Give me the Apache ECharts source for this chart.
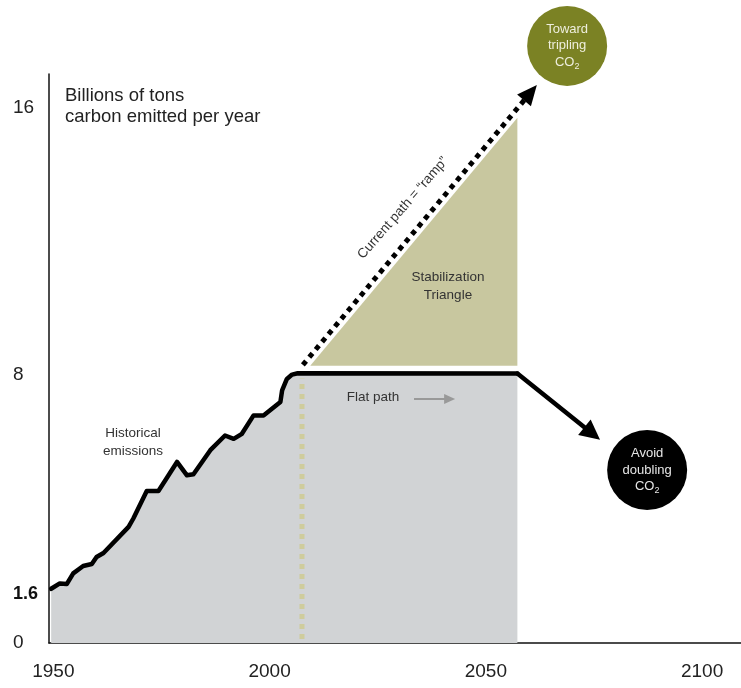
<!DOCTYPE html>
<html>
<head>
<meta charset="utf-8">
<script src="https://cdn.jsdelivr.net/npm/echarts@6/dist/echarts.min.js"></script>
<style>
  html, body { margin: 0; padding: 0; background: #fff; }
  #chart { width: 741px; height: 688px; }
</style>
</head>
<body>
<div id="chart"></div>
<script>
// Historical emissions, billions of tons of carbon per year
const histYears  = [1949.5, 1951.5, 1953.1, 1954.6, 1956.9, 1958.9, 1960.0, 1961.6, 1967.4, 1968.5, 1971.6, 1974.3, 1975.9, 1978.6, 1980.9, 1982.4, 1986.3, 1989.7, 1991.7, 1993.6, 1996.3, 1998.6, 2002.5, 2002.9, 2004.0, 2005.2, 2006.5];
const histValues = [1.62, 1.78, 1.76, 2.08, 2.30, 2.36, 2.57, 2.69, 3.47, 3.72, 4.54, 4.54, 4.86, 5.41, 5.01, 5.04, 5.76, 6.20, 6.10, 6.25, 6.80, 6.80, 7.20, 7.55, 7.89, 8.02, 8.06];

// Flat path: emissions held constant for fifty years
const flatYears  = [2057.3];
const flatValues = [8.05];

// Decline after the flat path
const declineYears  = [2057.3, 2076.4];
const declineValues = [8.05, 6.07];

// Current path ("ramp")
const rampYears  = [2007.7, 2061.8];
const rampValues = [8.31, 16.67];

// Stabilization triangle
const triYears  = [2009.4, 2057.3, 2057.3];
const triValues = [8.28, 8.28, 15.69];

// Start of the projection
const guideYear = 2007.5;
const guideValues = [0, 7.9];

// Axis tick labels
const xTicks = [1950, 2000, 2050, 2100];
const yTicks = [0, 1.6, 8, 16];

// Outcome bubbles
const tripleAt = [2068.8, 17.84];
const doubleAt = [2087.3, 5.17];

// Small "flat path" pointer
const pointerYears = [2033.4, 2042.9];
const pointerValues = [7.29, 7.29];

const FONT = '"Liberation Sans", Arial, sans-serif';
const TEXT = '#333';

const histData = histYears.map((y, i) => [y, histValues[i]])
  .concat(flatYears.map((y, i) => [y, flatValues[i]]));

function arrow(api, xs, ys, o) {
  const p0 = api.coord([xs[0], ys[0]]);
  const p1 = api.coord([xs[1], ys[1]]);
  const dx = p1[0] - p0[0], dy = p1[1] - p0[1];
  const len = Math.hypot(dx, dy);
  const ux = dx / len, uy = dy / len, nx = -uy, ny = ux;
  const L = o.headLen, W = o.headWidth / 2;
  const bx = p1[0] - ux * L, by = p1[1] - uy * L;
  return {
    type: 'group',
    children: [
      {
        type: 'line',
        shape: { x1: p0[0], y1: p0[1], x2: p1[0] - ux * L * 0.6, y2: p1[1] - uy * L * 0.6 },
        style: { stroke: o.color, lineWidth: o.width, lineDash: o.dash || null, lineCap: o.cap || 'butt', fill: null }
      },
      {
        type: 'polygon',
        shape: { points: [[p1[0], p1[1]], [bx + nx * W, by + ny * W], [bx - nx * W, by - ny * W]] },
        style: { fill: o.color }
      }
    ]
  };
}

const chart = echarts.init(document.getElementById('chart'), null, { renderer: 'canvas' });

const bubbleLabel = (lines, color) => ({
  show: true,
  position: 'inside',
  formatter: lines,
  rich: {
    t: { fontSize: 13, lineHeight: 16.5, color: color, fontFamily: FONT },
    s: { fontSize: 9, lineHeight: 10, color: color, fontFamily: FONT, verticalAlign: 'bottom' }
  }
});

const note = (x, y, text, extra) => Object.assign({
  type: 'text', silent: true, z: 20,
  style: { x: x, y: y, text: text, font: '13.5px ' + FONT, fill: TEXT, align: 'center', verticalAlign: 'middle' }
}, extra || {});

chart.setOption({
  animation: false,
  backgroundColor: '#fff',
  grid: { left: 49, right: 0, top: 74, bottom: 45 },
  xAxis: {
    type: 'value', min: 1949, max: 2109,
    axisLine: { show: true, onZero: false, lineStyle: { color: '#111', width: 1.5 } },
    axisTick: { show: false },
    splitLine: { show: false },
    axisLabel: { customValues: xTicks, margin: 19, fontSize: 19, color: '#222', fontFamily: FONT,
      formatter: v => String(v) }
  },
  yAxis: {
    type: 'value', min: 0, max: 17,
    axisLine: { show: true, lineStyle: { color: '#111', width: 1.5 } },
    axisTick: { show: false },
    splitLine: { show: false },
    axisLabel: {
      customValues: yTicks, align: 'left', margin: 36, fontSize: 19, color: '#222', fontFamily: FONT,
      formatter: v => (v === 1.6 ? '{b|1.6}' : String(v)),
      rich: { b: { fontWeight: 'bold', fontSize: 18, color: '#111', fontFamily: FONT, padding: [9, 0, 0, 0] } }
    }
  },
  series: [
    {
      name: 'area', type: 'line', data: histData, symbol: 'none', silent: true, z: 1,
      lineStyle: { width: 0 }, areaStyle: { color: '#d1d3d5', opacity: 1 }
    },
    {
      name: 'triangle', type: 'custom', silent: true, z: 1,
      data: [[triYears[0], triValues[0]]],
      renderItem: (params, api) => ({
        type: 'polygon',
        shape: { points: triYears.map((y, i) => api.coord([y, triValues[i]])) },
        style: { fill: '#c8c79f' }
      })
    },
    {
      name: 'guide', type: 'custom', silent: true, z: 2,
      data: [[guideYear, guideValues[0]]],
      renderItem: (params, api) => {
        const a = api.coord([guideYear, guideValues[0]]);
        const b = api.coord([guideYear, guideValues[1]]);
        return { type: 'line', shape: { x1: a[0], y1: a[1] - 4, x2: b[0], y2: b[1] },
          style: { stroke: '#cfcc9c', lineWidth: 5, lineDash: [5, 5], fill: null } };
      }
    },
    {
      name: 'emissions', type: 'line', data: histData, symbol: 'none', silent: true, z: 3,
      lineStyle: { color: '#000', width: 4.5, join: 'round', cap: 'round' }
    },
    {
      name: 'decline', type: 'custom', silent: true, z: 3,
      data: [[declineYears[0], declineValues[0]]],
      renderItem: (params, api) => arrow(api, declineYears, declineValues,
        { color: '#000', width: 4.5, headLen: 20, headWidth: 20, cap: 'round' })
    },
    {
      name: 'ramp', type: 'custom', silent: true, z: 3,
      data: [[rampYears[0], rampValues[0]]],
      renderItem: (params, api) => arrow(api, rampYears, rampValues,
        { color: '#000', width: 5, dash: [5, 5], headLen: 20, headWidth: 18 })
    },
    {
      name: 'pointer', type: 'custom', silent: true, z: 3,
      data: [[pointerYears[0], pointerValues[0]]],
      renderItem: (params, api) => arrow(api, pointerYears, pointerValues,
        { color: '#999', width: 2, headLen: 11, headWidth: 10 })
    },
    {
      name: 'bubbles', type: 'scatter', silent: true, clip: false, z: 4,
      symbol: 'circle', symbolSize: 80,
      itemStyle: { opacity: 1 },
      data: [
        { value: tripleAt, itemStyle: { color: '#7b8224', opacity: 1 },
          label: bubbleLabel('{t|Toward}\n{t|tripling}\n{t|CO}{s|2}', '#eeeedd') },
        { value: doubleAt, itemStyle: { color: '#000', opacity: 1 },
          label: bubbleLabel('{t|Avoid}\n{t|doubling}\n{t|CO}{s|2}', '#e6e6e6') }
      ]
    }
  ],
  graphic: [
    { type: 'text', silent: true, z: 20, style: { x: 65, y: 96, text: 'Billions of tons', font: '18.5px ' + FONT, fill: '#222', verticalAlign: 'middle' } },
    { type: 'text', silent: true, z: 20, style: { x: 65, y: 117, text: 'carbon emitted per year', font: '18.5px ' + FONT, fill: '#222', verticalAlign: 'middle' } },
    note(133, 433, 'Historical'),
    note(133, 451, 'emissions'),
    note(373, 397, 'Flat path'),
    note(448, 277, 'Stabilization'),
    note(448, 295, 'Triangle'),
    Object.assign(note(0, 0, 'Current path = \u201cramp\u201d'), { x: 403, y: 208, rotation: 49 * Math.PI / 180 })
  ]
});
</script>
</body>
</html>
